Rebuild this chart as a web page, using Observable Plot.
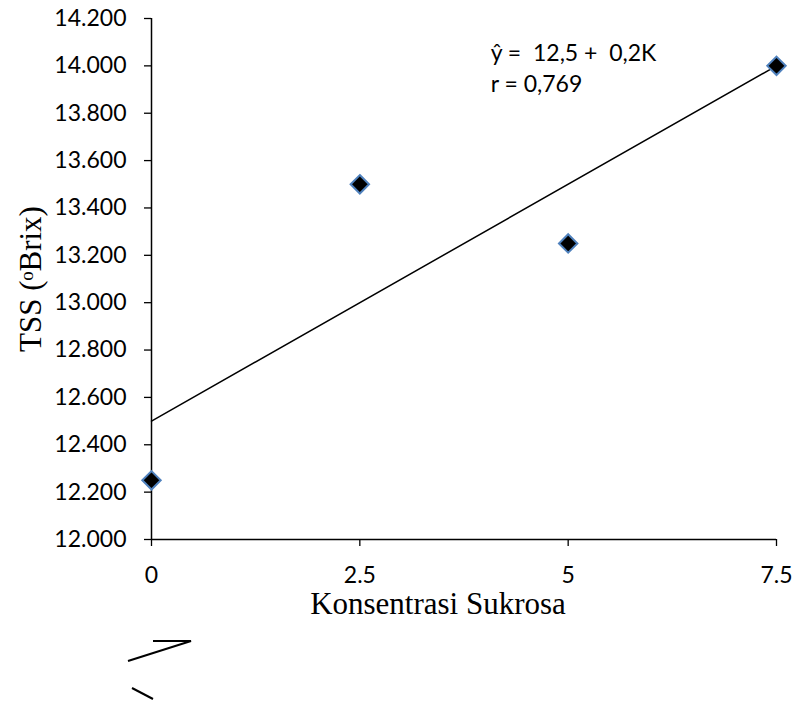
<!DOCTYPE html>
<html>
<head>
<meta charset="utf-8">
<script src="https://cdn.jsdelivr.net/npm/d3@7"></script>
<script src="https://cdn.jsdelivr.net/npm/@observablehq/plot@0.6"></script>
<style>
  html, body { margin: 0; padding: 0; background: #fff; }
  #chart { position: relative; width: 795px; height: 702px; }
  #chart svg text { white-space: pre; }
  #marks { position: absolute; left: 0; top: 0; pointer-events: none; }
</style>
</head>
<body>
<div id="chart"></div>
<script>
// ---- data ----
const sucrose = [0, 2.5, 5, 7.5];            // Konsentrasi Sukrosa
const tss = [12.25, 13.5, 13.25, 14.0];        // TSS (°Brix)
const xTicks = [0, 2.5, 5, 7.5];
const yTicks = [12.0, 12.2, 12.4, 12.6, 12.8, 13.0, 13.2, 13.4, 13.6, 13.8, 14.0, 14.2];
const fitX = [0, 7.5];
const fitY = [12.5, 14.0];                      // ŷ = 12,5 + 0,2K
const equationText = "ŷ =  12,5 +  0,2K\nr = 0,769";
const xLabel = "Konsentrasi Sukrosa";
const yLabel = "TSS (ᵒBrix)";

const points = sucrose.map((x, i) => ({x, y: tss[i]}));
const fit = fitX.map((x, i) => ({x, y: fitY[i]}));

const chart = Plot.plot({
  width: 795,
  height: 702,
  marginLeft: 151,
  marginRight: 19,
  marginTop: 18,
  marginBottom: 163,
  style: {fontFamily: "Lato, 'Open Sans', sans-serif", fontSize: "23px", color: "#000", background: "#fff"},
  x: {domain: [0, 7.5]},
  y: {domain: [12.0, 14.2]},
  marks: [
    Plot.axisX({ticks: xTicks, tickSize: 7, tickPadding: 20, label: null, stroke: "#000", strokeWidth: 1.3, tickFormat: d => String(d)}),
    Plot.axisY({ticks: yTicks, tickSize: 7, tickPadding: 18, label: null, stroke: "#000", strokeWidth: 1.3, tickFormat: d3.format(".3f")}),
    Plot.ruleX([0], {stroke: "#000", strokeWidth: 1.5}),
    Plot.ruleY([12.0], {stroke: "#000", strokeWidth: 1.5}),
    Plot.line(fit, {x: "x", y: "y", stroke: "#000", strokeWidth: 1.5}),
    Plot.dot(points, {x: "x", y: "y", symbol: "diamond2", r: 8.3, fill: "#000", stroke: "#4F81BD", strokeWidth: 2}),
    Plot.text([equationText], {x: 4.07, y: 14.2, textAnchor: "start", lineAnchor: "top", dy: 20, lineHeight: 1.36, fontSize: 23, fontFamily: "Lato, 'Open Sans', sans-serif", fill: "#000"}),
    Plot.text([xLabel], {frameAnchor: "bottom", textAnchor: "middle", dx: -26, dy: 64.5, lineAnchor: "middle", fontSize: 31, fontFamily: "'Liberation Serif', 'Times New Roman', serif", fill: "#000"}),
    Plot.text([yLabel], {frameAnchor: "left", textAnchor: "middle", dx: -120, rotate: -90, lineAnchor: "middle", fontSize: 31, fontFamily: "'Liberation Serif', 'Times New Roman', serif", fill: "#000"})
  ]
});

const host = document.getElementById("chart");
host.appendChild(chart);

// stray pen strokes below the chart in the original picture
const strokes = [
  [[153, 641], [191, 641], [128, 661]],
  [[132, 688], [153, 699]]
];
const overlay = d3.select(host).append("svg")
  .attr("id", "marks")
  .attr("width", 795).attr("height", 702);
overlay.selectAll("path").data(strokes).join("path")
  .attr("d", d3.line())
  .attr("fill", "none")
  .attr("stroke", "#000")
  .attr("stroke-width", 2);
</script>
</body>
</html>
